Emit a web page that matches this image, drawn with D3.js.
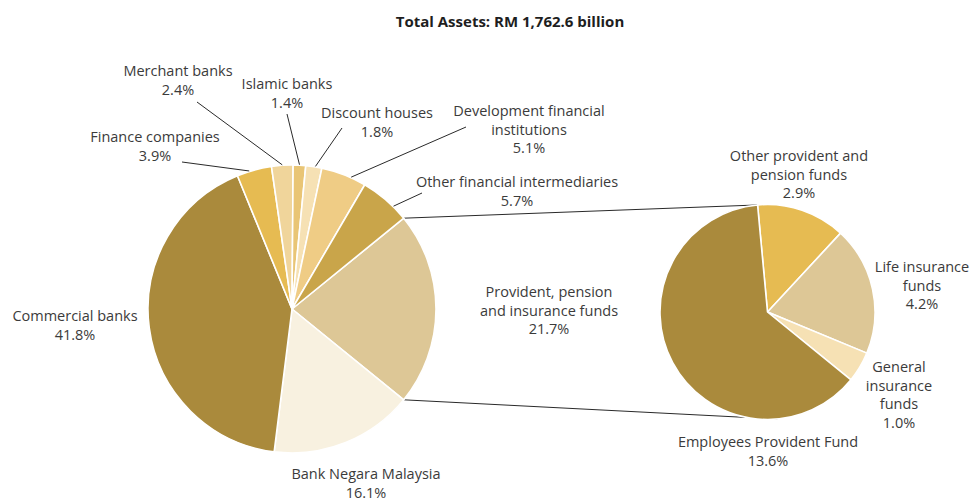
<!DOCTYPE html>
<html>
<head>
<meta charset="utf-8">
<script src="https://cdn.jsdelivr.net/npm/d3@7"></script>
<style>
  html, body { margin: 0; padding: 0; background: #ffffff; }
  svg { display: block; }
  text { font-family: "Open Sans", "Noto Sans", sans-serif; fill: #3b3b3b; }
</style>
</head>
<body>
<svg id="chart" width="972" height="500"></svg>
<script>
// Financial system assets, share of total (%)
const mainCategories = [
  "Provident, pension\nand insurance funds",
  "Bank Negara Malaysia",
  "Commercial banks",
  "Finance companies",
  "Merchant banks",
  "Islamic banks",
  "Discount houses",
  "Development financial\ninstitutions",
  "Other financial intermediaries"
];
const mainValues = [21.7, 16.1, 41.8, 3.9, 2.4, 1.4, 1.8, 5.1, 5.7];

// Breakdown of provident, pension and insurance funds (% of total)
const subCategories = [
  "Other provident and\npension funds",
  "Life insurance\nfunds",
  "General\ninsurance\nfunds",
  "Employees Provident Fund"
];
const subValues = [2.9, 4.2, 1.0, 13.6];

const titleText = "Total Assets: RM 1,762.6 billion";

// Styling
const mainColors = ["#DDC796", "#F8F1E0", "#AA8A3C", "#E6BB52", "#F0D59B",
                    "#E9C575", "#F6E1B4", "#EFCC85", "#C9A54A"];
const subColors = ["#E6BB52", "#DDC796", "#F6E1B4", "#AA8A3C"];

// Label layout: x centre, first baseline, optional leader start and angular nudge (deg)
const mainLabelLayout = [
  { x: 549, y: 297 },
  { x: 366, y: 479 },
  { x: 75,  y: 321 },
  { x: 155, y: 142, lx: 182, ly: 162, nudge: -2 },
  { x: 178, y: 76,  lx: 197, ly: 102, nudge: 0 },
  { x: 287, y: 89,  lx: 287, ly: 114, nudge: 0 },
  { x: 377, y: 118, lx: 342, ly: 128, nudge: 0.6 },
  { x: 529, y: 116, lx: 466, ly: 127, nudge: 3 },
  { x: 517, y: 187, lx: 422, ly: 193, nudge: 4 }
];
const subLabelLayout = [
  { x: 799, y: 161 },
  { x: 922, y: 272 },
  { x: 899, y: 372 },
  { x: 768, y: 447 }
];
const lineHeight = 18.5;

const svg = d3.select("#chart");
const deg = Math.PI / 180;

svg.append("text")
  .attr("x", 510).attr("y", 27)
  .attr("text-anchor", "middle")
  .style("font-weight", "bold")
  .style("font-size", "15px")
  .style("fill", "#1e1e1e")
  .text(titleText);

// Main pie: the provident slice is centred on the 3 o'clock direction
const mainCx = 292, mainCy = 309, mainR = 144;
const mainTotal = d3.sum(mainValues);
const provSpan = mainValues[0] / mainTotal * 2 * Math.PI;
const mainStart = Math.PI / 2 - provSpan / 2;

const mainPie = d3.pie().sort(null)
  .startAngle(mainStart).endAngle(mainStart + 2 * Math.PI);
const mainArcs = mainPie(mainValues);
const mainArc = d3.arc().innerRadius(0).outerRadius(mainR);

// Secondary pie
const subCx = 767.5, subCy = 312, subR = 107.5;
const subStart = -5.3 * deg;
const subPie = d3.pie().sort(null)
  .startAngle(subStart).endAngle(subStart + 2 * Math.PI);
const subArcs = subPie(subValues);
const subArc = d3.arc().innerRadius(0).outerRadius(subR);

const polar = (cx, cy, r, a) => [cx + r * Math.sin(a), cy - r * Math.cos(a)];

// Connector lines between the provident slice and the breakdown pie
const provArc = mainArcs[0];
const connectors = [
  [polar(mainCx, mainCy, mainR, provArc.startAngle), polar(subCx, subCy, subR, subStart)],
  [polar(mainCx, mainCy, mainR, provArc.endAngle), polar(subCx, subCy, subR, subStart + Math.PI)]
];
svg.append("g").selectAll("line").data(connectors).join("line")
  .attr("x1", d => d[0][0]).attr("y1", d => d[0][1])
  .attr("x2", d => d[1][0]).attr("y2", d => d[1][1])
  .attr("stroke", "#2a2a2a").attr("stroke-width", 1);

const gMain = svg.append("g").attr("transform", `translate(${mainCx},${mainCy})`);
gMain.selectAll("path").data(mainArcs).join("path")
  .attr("d", mainArc)
  .attr("fill", (d, i) => mainColors[i])
  .attr("stroke", "#ffffff")
  .attr("stroke-width", 1.6)
  .attr("stroke-linejoin", "round");

const gSub = svg.append("g").attr("transform", `translate(${subCx},${subCy})`);
gSub.selectAll("path").data(subArcs).join("path")
  .attr("d", subArc)
  .attr("fill", (d, i) => subColors[i])
  .attr("stroke", "#ffffff")
  .attr("stroke-width", 1.6)
  .attr("stroke-linejoin", "round");

// Leader lines for the narrow slices
const leaders = mainArcs.map((a, i) => ({ a, L: mainLabelLayout[i] }))
  .filter(d => d.L.lx !== undefined)
  .map(d => {
    const mid = (d.a.startAngle + d.a.endAngle) / 2 + d.L.nudge * deg;
    return { from: [d.L.lx, d.L.ly], to: polar(mainCx, mainCy, mainR + 0.5, mid) };
  });
svg.append("g").selectAll("line").data(leaders).join("line")
  .attr("x1", d => d.from[0]).attr("y1", d => d.from[1])
  .attr("x2", d => d.to[0]).attr("y2", d => d.to[1])
  .attr("stroke", "#2a2a2a").attr("stroke-width", 1);

// Labels: category name lines followed by the share
function drawLabels(cats, vals, layout) {
  const g = svg.append("g");
  cats.forEach((c, i) => {
    const lines = c.split("\n").concat([vals[i].toFixed(1) + "%"]);
    const t = g.append("text")
      .attr("text-anchor", "middle")
      .style("font-size", "14.5px");
    lines.forEach((ln, k) => {
      t.append("tspan")
        .attr("x", layout[i].x)
        .attr("y", layout[i].y + k * lineHeight)
        .text(ln);
    });
  });
}
drawLabels(mainCategories, mainValues, mainLabelLayout);
drawLabels(subCategories, subValues, subLabelLayout);
</script>
</body>
</html>
